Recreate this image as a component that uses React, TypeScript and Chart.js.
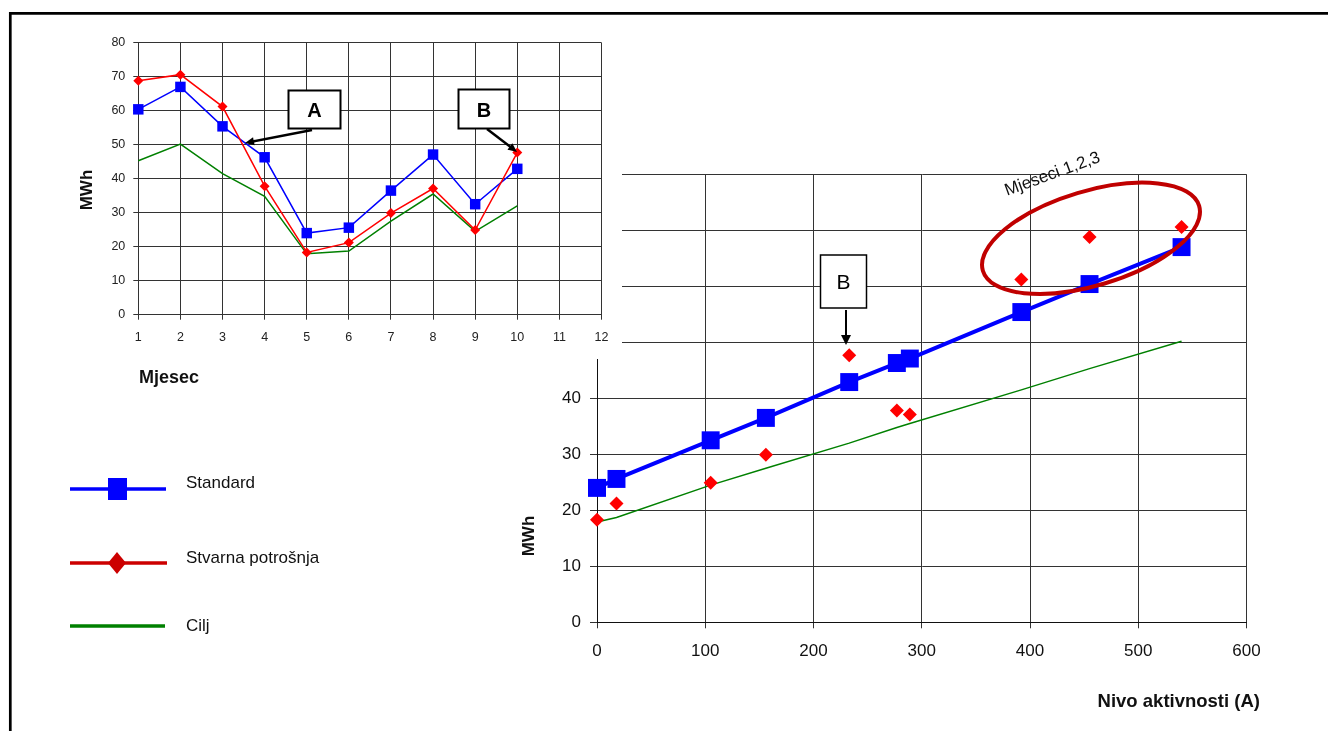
import React, { useEffect, useRef } from "react";
import { Chart, registerables } from "chart.js";

Chart.register(...registerables);

// ---------- data ----------
const months = [1, 2, 3, 4, 5, 6, 7, 8, 9, 10];
const standardMWh = [60.4, 67.0, 55.4, 46.3, 24.0, 25.6, 36.5, 47.1, 32.5, 42.9];
const actualMWh = [68.8, 70.6, 61.2, 37.8, 18.3, 21.2, 29.9, 37.1, 24.9, 47.7];
const targetMWh = [45.3, 50.2, 41.5, 34.8, 17.9, 18.7, 27.5, 35.5, 24.5, 32.0];
const activityA = [455, 540, 392, 277, 0, 18, 156, 289, 105, 233];

const seriesNames = ["Standard", "Stvarna potrošnja", "Cilj"];
const leftXTitle = "Mjesec";
const rightXTitle = "Nivo aktivnosti (A)";
const yTitle = "MWh";
const ellipseNote = "Mjeseci 1,2,3";

const FONT = '"Liberation Sans", Arial, Helvetica, sans-serif';
const BLUE = "#0000ff";
const RED = "#ff0000";
const GREEN = "#008000";
const GRID = "#333333";

function byMonth(values: number[]) {
  return months.map((m, i) => ({ x: m, y: values[i] }));
}
function byActivity(values: number[]) {
  return activityA
    .map((a, i) => ({ x: a, y: values[i] }))
    .sort((p, q) => p.x - q.x);
}

function LeftChart() {
  const ref = useRef<HTMLCanvasElement | null>(null);
  useEffect(() => {
    if (!ref.current) return;
    const chart = new Chart(ref.current, {
      type: "line",
      data: {
        datasets: [
          {
            label: seriesNames[1],
            data: byMonth(actualMWh),
            borderColor: RED,
            backgroundColor: RED,
            borderWidth: 1.5,
            pointStyle: "rectRot",
            pointRadius: 5,
            pointBorderWidth: 0,
            pointBackgroundColor: RED,
            tension: 0,
            clip: false,
          },
          {
            label: seriesNames[0],
            data: byMonth(standardMWh),
            borderColor: BLUE,
            backgroundColor: BLUE,
            borderWidth: 1.5,
            pointStyle: "rect",
            pointRadius: 7.4,
            pointBorderWidth: 0,
            pointBackgroundColor: BLUE,
            tension: 0,
            clip: false,
          },
          {
            label: seriesNames[2],
            data: byMonth(targetMWh),
            borderColor: GREEN,
            borderWidth: 1.5,
            pointRadius: 0,
            tension: 0,
            clip: false,
          },
        ],
      },
      options: {
        animation: false,
        responsive: false,
        events: [],
        layout: { padding: { top: 22.7, right: 18.5, left: 0, bottom: 0 } },
        plugins: { legend: { display: false }, tooltip: { enabled: false } },
        scales: {
          x: {
            type: "linear",
            min: 1,
            max: 12,
            ticks: {
              stepSize: 1,
              autoSkip: false,
              maxRotation: 0,
              padding: 10,
              color: "#222",
              font: { family: FONT, size: 12.5 },
            },
            grid: { color: GRID, tickColor: GRID, tickLength: 5 },
            border: { color: GRID },
            afterFit: (s: any) => {
              s.height = 45.3;
            },
          },
          y: {
            min: 0,
            max: 80,
            ticks: {
              stepSize: 10,
              padding: 8,
              color: "#222",
              font: { family: FONT, size: 12.5 },
            },
            grid: { color: GRID, tickColor: GRID, tickLength: 5 },
            border: { color: GRID },
            afterFit: (s: any) => {
              s.width = 118.3;
            },
          },
        },
      },
    } as any);
    return () => chart.destroy();
  }, []);
  return (
    <canvas
      ref={ref}
      width={600}
      height={340}
      style={{ position: "absolute", left: 20, top: 20, width: 600, height: 340 }}
    />
  );
}

function RightChart() {
  const ref = useRef<HTMLCanvasElement | null>(null);
  useEffect(() => {
    if (!ref.current) return;
    const chart = new Chart(ref.current, {
      type: "scatter",
      data: {
        datasets: [
          {
            label: seriesNames[0],
            data: byActivity(standardMWh),
            showLine: true,
            borderColor: BLUE,
            backgroundColor: BLUE,
            borderWidth: 4,
            pointStyle: "rect",
            pointRadius: 12.7,
            pointBorderWidth: 0,
            pointBackgroundColor: BLUE,
            clip: false,
          },
          {
            label: seriesNames[1],
            data: byActivity(actualMWh),
            showLine: false,
            backgroundColor: RED,
            pointStyle: "rectRot",
            pointRadius: 7,
            pointBorderWidth: 0,
            pointBackgroundColor: RED,
            clip: false,
          },
          {
            label: seriesNames[2],
            data: byActivity(targetMWh),
            showLine: true,
            borderColor: GREEN,
            borderWidth: 1.5,
            pointRadius: 0,
            clip: false,
          },
        ],
      },
      options: {
        animation: false,
        responsive: false,
        events: [],
        layout: { padding: { top: 24.3, right: 33.5, left: 0, bottom: 0 } },
        plugins: { legend: { display: false }, tooltip: { enabled: false } },
        scales: {
          x: {
            type: "linear",
            min: 0,
            max: 600,
            ticks: {
              stepSize: 100,
              autoSkip: false,
              maxRotation: 0,
              padding: 13,
              color: "#111",
              font: { family: FONT, size: 17 },
            },
            grid: { color: GRID, tickColor: GRID, tickLength: 6 },
            border: { color: "#111" },
            afterFit: (s: any) => {
              s.height = 57.7;
            },
          },
          y: {
            min: 0,
            max: 80,
            ticks: {
              stepSize: 10,
              padding: 9,
              color: "#111",
              font: { family: FONT, size: 17 },
            },
            grid: { color: GRID, tickColor: GRID, tickLength: 7 },
            border: { color: "#111" },
            afterFit: (s: any) => {
              s.width = 117;
            },
          },
        },
      },
    } as any);
    return () => chart.destroy();
  }, []);
  return (
    <canvas
      ref={ref}
      width={800}
      height={530}
      style={{ position: "absolute", left: 480, top: 150, width: 800, height: 530 }}
    />
  );
}

function Arrow({ x1, y1, x2, y2, w, hl, hw }: any) {
  const dx = x2 - x1;
  const dy = y2 - y1;
  const len = Math.hypot(dx, dy);
  const ux = dx / len;
  const uy = dy / len;
  const bx = x2 - ux * hl;
  const by = y2 - uy * hl;
  const px = -uy * (hw / 2);
  const py = ux * (hw / 2);
  return (
    <g>
      <line x1={x1} y1={y1} x2={bx + ux} y2={by + uy} stroke="#000" strokeWidth={w} />
      <polygon
        points={`${x2},${y2} ${bx + px},${by + py} ${bx - px},${by - py}`}
        fill="#000"
      />
    </g>
  );
}

function Overlay() {
  return (
    <svg
      width={1328}
      height={731}
      style={{ position: "absolute", left: 0, top: 0, pointerEvents: "none" }}
      fontFamily={FONT}
    >
      {/* frame */}
      <line x1={10.3} y1={12} x2={10.3} y2={731} stroke="#000" strokeWidth={2.7} />
      <line x1={9} y1={13.3} x2={1328} y2={13.3} stroke="#000" strokeWidth={2.7} />

      {/* left chart titles */}
      <text
        transform="translate(86,190) rotate(-90)"
        x={0}
        y={6}
        textAnchor="middle"
        fontWeight="bold"
        fontSize={17}
        fill="#111"
      >
        {yTitle}
      </text>
      <text x={139} y={383} fontWeight="bold" fontSize={18} fill="#111">
        {leftXTitle}
      </text>

      {/* right chart titles */}
      <text
        transform="translate(528,536) rotate(-90)"
        x={0}
        y={6}
        textAnchor="middle"
        fontWeight="bold"
        fontSize={17}
        fill="#111"
      >
        {yTitle}
      </text>
      <text x={1260} y={707} textAnchor="end" fontWeight="bold" fontSize={18.5} fill="#111">
        {rightXTitle}
      </text>

      {/* annotation A */}
      <rect x={288.5} y={90.5} width={52} height={38} fill="#fff" stroke="#000" strokeWidth={2} />
      <text x={314.5} y={117} textAnchor="middle" fontWeight="bold" fontSize={20} fill="#000">
        A
      </text>
      <Arrow x1={312} y1={130} x2={245} y2={143} w={2.5} hl={9} hw={8} />

      {/* annotation B (left) */}
      <rect x={458.5} y={89.5} width={51} height={39} fill="#fff" stroke="#000" strokeWidth={2} />
      <text x={484} y={116.5} textAnchor="middle" fontWeight="bold" fontSize={20} fill="#000">
        B
      </text>
      <Arrow x1={487} y1={129} x2={517} y2={152} w={2.5} hl={9} hw={8} />

      {/* annotation B (right) */}
      <rect x={820.5} y={255} width={46} height={53} fill="#fff" stroke="#000" strokeWidth={1.5} />
      <text x={843.5} y={289} textAnchor="middle" fontSize={21} fill="#000">
        B
      </text>
      <Arrow x1={846} y1={310} x2={846} y2={345} w={2} hl={10} hw={10} />

      {/* ellipse + note */}
      <ellipse
        cx={1091}
        cy={238.3}
        rx={112.9}
        ry={47.2}
        transform="rotate(-16.7 1091 238.3)"
        fill="none"
        stroke="#c00000"
        strokeWidth={4}
      />
      <text
        transform="translate(1052,173) rotate(-20)"
        x={0}
        y={6}
        textAnchor="middle"
        fontSize={17}
        fill="#111"
      >
        {ellipseNote}
      </text>

      {/* legend */}
      <line x1={70} y1={489} x2={166} y2={489} stroke={BLUE} strokeWidth={3.5} />
      <rect x={108} y={478} width={19} height={22} fill={BLUE} />
      <text x={186} y={488} fontSize={17} fill="#111">
        {seriesNames[0]}
      </text>

      <line x1={70} y1={563} x2={167} y2={563} stroke="#cc0000" strokeWidth={3.5} />
      <polygon points="117,552 126,563 117,574 108,563" fill="#cc0000" />
      <text x={186} y={563} fontSize={17} fill="#111">
        {seriesNames[1]}
      </text>

      <line x1={70} y1={626} x2={165} y2={626} stroke={GREEN} strokeWidth={3.5} />
      <text x={186} y={631} fontSize={17} fill="#111">
        {seriesNames[2]}
      </text>
    </svg>
  );
}

export default function App() {
  return (
    <div
      style={{
        position: "fixed",
        left: 0,
        top: 0,
        width: 1328,
        height: 731,
        background: "#fff",
        overflow: "hidden",
      }}
    >
      <RightChart />
      {/* area of the right chart hidden behind the left chart's frame */}
      <div
        style={{
          position: "absolute",
          left: 480,
          top: 150,
          width: 141.5,
          height: 209,
          background: "#fff",
        }}
      />
      <LeftChart />
      <Overlay />
    </div>
  );
}
